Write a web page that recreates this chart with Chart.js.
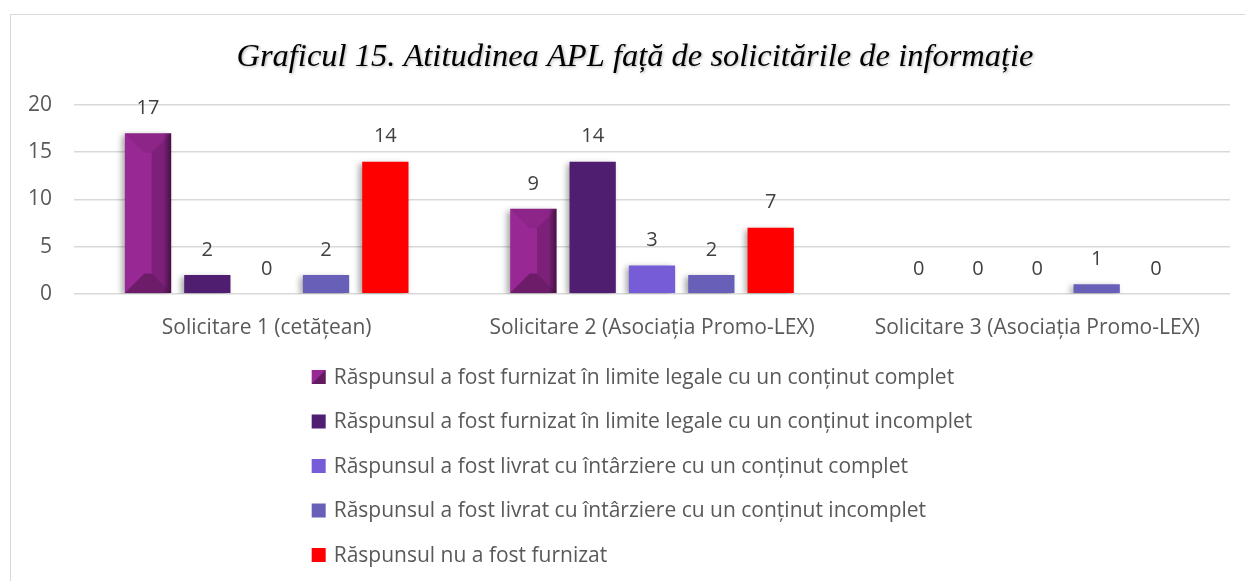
<!DOCTYPE html>
<html>
<head>
<meta charset="utf-8">
<script src="https://cdn.jsdelivr.net/npm/chart.js@4.4.1/dist/chart.umd.min.js"></script>
<style>
  body { margin: 0; background: #fff; overflow: hidden; }
  #wrap { position: relative; width: 1245px; height: 581px; }
  #frame { position: absolute; left: 10px; top: 14px; width: 1260px; height: 620px; border: 1px solid #d9d9d9; }
  #myChart { position: absolute; left: 0; top: 0; }
</style>
</head>
<body>
<div id="wrap">
  <div id="frame"></div>
  <canvas id="myChart" width="1245" height="581"></canvas>
</div>
<script>
const titlu = 'Graficul 15. Atitudinea APL față de solicitările de informație'
const categorii = ['Solicitare 1 (cetățean)', 'Solicitare 2 (Asociația Promo-LEX)', 'Solicitare 3 (Asociația Promo-LEX)']
const serii = [
    'Răspunsul a fost furnizat în limite legale cu un conținut complet',
    'Răspunsul a fost furnizat în limite legale cu un conținut incomplet',
    'Răspunsul a fost livrat cu întârziere cu un conținut complet',
    'Răspunsul a fost livrat cu întârziere cu un conținut incomplet',
    'Răspunsul nu a fost furnizat'
]
const legalComplet = [17, 9, 0]
const legalIncomplet = [2, 14, 0]
const intarziereComplet = [0, 3, 0]
const intarziereIncomplet = [2, 2, 1]
const nefurnizat = [14, 7, 0]
const yMax = 20
const yPas = 5

const culori = ['#982894', '#4f1e70', '#775cd8', '#6860b8', '#ff0000']
const valori = [legalComplet, legalIncomplet, intarziereComplet, intarziereIncomplet, nefurnizat]

const textGri = '#595959'

// title drawn by hand so it can sit where the original one does
const titluPlugin = {
    id: 'titluPlugin',
    afterDraw(chart) {
        const ctx = chart.ctx
        ctx.save()
        ctx.font = 'italic 32.5px "Liberation Serif"'
        ctx.fillStyle = '#000'
        ctx.textAlign = 'center'
        ctx.textBaseline = 'middle'
        ctx.shadowColor = 'rgba(0,0,0,0.3)'
        ctx.shadowBlur = 3
        ctx.shadowOffsetX = 1
        ctx.shadowOffsetY = 1
        ctx.fillText(titlu, 635, 57)
        ctx.restore()
    }
}

// shadow + bevel on first series + value labels
const barDecor = {
    id: 'barDecor',
    beforeDatasetsDraw(chart) {
        const ctx = chart.ctx
        ctx.save()
        ctx.shadowColor = 'rgba(0,0,0,0.35)'
        ctx.shadowBlur = 6
        ctx.shadowOffsetX = -3
        ctx.shadowOffsetY = 2
    },
    afterDatasetsDraw(chart) {
        const ctx = chart.ctx
        ctx.restore()

        chart.getDatasetMeta(0).data.forEach(bar => {
            const l = bar.x - bar.width / 2
            const r = bar.x + bar.width / 2
            const t = bar.y
            const bt = bar.base
            const h = bt - t
            if (h <= 0) return
            const b = Math.min(bar.width * 0.42, h / 2)
            const poly = (pts, fill) => {
                ctx.beginPath()
                ctx.moveTo(pts[0][0], pts[0][1])
                pts.slice(1).forEach(p => ctx.lineTo(p[0], p[1]))
                ctx.closePath()
                ctx.fillStyle = fill
                ctx.fill()
            }
            poly([[l, t], [r, t], [r - b, t + b], [l + b, t + b]], 'rgba(0,0,0,0.07)')
            poly([[r, t], [r, bt], [r - b, bt - b], [r - b, t + b]], 'rgba(0,0,0,0.18)')
            poly([[l, bt], [r, bt], [r - b, bt - b], [l + b, bt - b]], 'rgba(0,0,0,0.28)')
            const g = ctx.createLinearGradient(r - 8, 0, r, 0)
            g.addColorStop(0, 'rgba(0,0,0,0)')
            g.addColorStop(1, 'rgba(0,0,0,0.45)')
            ctx.fillStyle = g
            ctx.fillRect(r - 8, t, 8, h)
        })

        ctx.save()
        ctx.font = '20px "Open Sans"'
        ctx.fillStyle = '#404040'
        ctx.textAlign = 'center'
        ctx.textBaseline = 'middle'
        chart.data.datasets.forEach((ds, i) => {
            chart.getDatasetMeta(i).data.forEach((bar, j) => {
                ctx.fillText(String(ds.data[j]), bar.x, bar.y - 25)
            })
        })
        ctx.restore()
    }
}

// vertical legend, left aligned, under the axis
const legendaVerticala = {
    id: 'legendaVerticala',
    afterDraw(chart) {
        const ctx = chart.ctx
        ctx.save()
        ctx.font = '21px "Open Sans"'
        const maxW = Math.max(...serii.map(s => ctx.measureText(s).width))
        const box = 14
        const gap = 8
        const left = 642 - (box + gap + maxW) / 2
        const top = 377
        const pas = 44.5
        ctx.textBaseline = 'middle'
        serii.forEach((s, i) => {
            const y = top + i * pas
            ctx.fillStyle = culori[i]
            ctx.fillRect(left, y - box / 2, box, box)
            if (i === 0) {
                ctx.fillStyle = 'rgba(0,0,0,0.35)'
                ctx.beginPath()
                ctx.moveTo(left + box, y - box / 2)
                ctx.lineTo(left + box, y + box / 2)
                ctx.lineTo(left, y + box / 2)
                ctx.closePath()
                ctx.fill()
            }
            ctx.fillStyle = textGri
            ctx.fillText(s, left + box + gap, y + 1)
        })
        ctx.restore()
    }
}

const datasets = serii.map((nume, i) => ({
    label: nume,
    data: valori[i],
    backgroundColor: culori[i],
    borderWidth: 0,
    categoryPercentage: 0.77,
    barPercentage: 0.78
}))

new Chart(document.getElementById('myChart'), {
    type: 'bar',
    data: { labels: categorii, datasets },
    options: {
        responsive: false,
        animation: false,
        devicePixelRatio: 1,
        layout: { padding: { top: 105, left: 6, right: 15, bottom: 226 } },
        plugins: {
            legend: { display: false },
            tooltip: { enabled: false },
            title: { display: false }
        },
        scales: {
            x: {
                grid: { display: false },
                border: { display: false },
                ticks: { color: textGri, font: { family: '"Open Sans"', size: 21 }, padding: 14 }
            },
            y: {
                min: 0,
                max: yMax,
                border: { display: false },
                grid: { color: '#d9d9d9', lineWidth: 1.5, drawTicks: false },
                ticks: { stepSize: yPas, color: textGri, font: { family: '"Open Sans"', size: 21 }, padding: 22 }
            }
        }
    },
    plugins: [barDecor, legendaVerticala, titluPlugin]
})
</script>
</body>
</html>
